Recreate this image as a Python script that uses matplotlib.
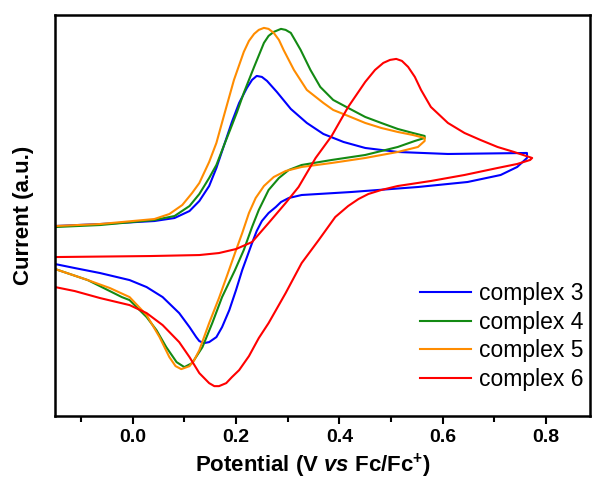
import matplotlib
matplotlib.use("Agg")
import matplotlib.pyplot as plt
from matplotlib.ticker import MultipleLocator

plt.rcParams['font.family'] = ['Liberation Sans', 'DejaVu Sans']
plt.rcParams['mathtext.fontset'] = 'custom'
plt.rcParams['mathtext.rm'] = 'Liberation Sans:bold'
plt.rcParams['mathtext.it'] = 'Liberation Sans:bold:italic'
plt.rcParams['mathtext.bf'] = 'Liberation Sans:bold'

# complex 3 (blue) - anodic sweep then return sweep
c3_fwd_v = [-0.150, -0.063, 0.042, 0.081, 0.110, 0.129, 0.148, 0.162, 0.177, 0.192, 0.206, 0.221,
            0.231, 0.240, 0.250, 0.260, 0.279, 0.306, 0.337, 0.369, 0.408, 0.450, 0.513, 0.610, 0.763]
c3_fwd_i = [0.74, 0.76, 0.79, 0.82, 0.89, 0.99, 1.14, 1.32, 1.55, 1.78, 1.97, 2.12,
            2.20, 2.24, 2.23, 2.19, 2.08, 1.91, 1.77, 1.66, 1.58, 1.52, 1.48, 1.46, 1.47]
c3_rev_v = [0.763, 0.744, 0.712, 0.648, 0.552, 0.423, 0.327, 0.302, 0.287, 0.277, 0.263, 0.250,
            0.240, 0.231, 0.212, 0.200, 0.187, 0.173, 0.162, 0.148, 0.138, 0.129, 0.123, 0.110,
            0.090, 0.058, 0.027, -0.006, -0.063, -0.112, -0.150]
c3_rev_i = [1.42, 1.33, 1.25, 1.18, 1.13, 1.08, 1.05, 1.02, 0.98, 0.93, 0.87, 0.79,
            0.69, 0.57, 0.30, 0.10, -0.10, -0.27, -0.37, -0.42, -0.43, -0.41, -0.37, -0.27,
            -0.13, 0.03, 0.13, 0.20, 0.27, 0.32, 0.36]

# complex 4 (green)
c4_fwd_v = [-0.150, -0.063, 0.042, 0.081, 0.110, 0.129, 0.148, 0.162, 0.177, 0.190, 0.202, 0.215,
            0.235, 0.254, 0.263, 0.273, 0.287, 0.296, 0.306, 0.315, 0.325, 0.344, 0.363, 0.388,
            0.417, 0.450, 0.481, 0.513, 0.542, 0.565]
c4_fwd_i = [0.73, 0.75, 0.80, 0.84, 0.94, 1.06, 1.22, 1.35, 1.55, 1.72, 1.88, 2.07,
            2.33, 2.57, 2.64, 2.68, 2.71, 2.70, 2.67, 2.59, 2.50, 2.30, 2.13, 2.00,
            1.92, 1.83, 1.77, 1.71, 1.67, 1.64]
c4_rev_v = [0.565, 0.546, 0.513, 0.450, 0.385, 0.327, 0.302, 0.283, 0.263, 0.244, 0.231, 0.215,
            0.198, 0.173, 0.154, 0.135, 0.115, 0.100, 0.085, 0.065, 0.046, 0.027, -0.006, -0.021,
            -0.087, -0.150]
c4_rev_i = [1.62, 1.59, 1.53, 1.45, 1.40, 1.35, 1.30, 1.22, 1.10, 0.90, 0.73, 0.50,
            0.30, 0.03, -0.23, -0.47, -0.63, -0.67, -0.62, -0.47, -0.30, -0.17, 0.00, 0.03,
            0.20, 0.31]

# complex 5 (orange)
c5_fwd_v = [-0.150, -0.063, 0.042, 0.071, 0.096, 0.115, 0.129, 0.148, 0.162, 0.177, 0.196, 0.215,
            0.225, 0.235, 0.244, 0.254, 0.263, 0.273, 0.283, 0.292, 0.312, 0.337, 0.369, 0.388,
            0.417, 0.450, 0.481, 0.513, 0.542, 0.565]
c5_fwd_i = [0.74, 0.76, 0.81, 0.86, 0.95, 1.07, 1.17, 1.38, 1.57, 1.85, 2.20, 2.48,
            2.59, 2.66, 2.70, 2.72, 2.71, 2.67, 2.60, 2.50, 2.30, 2.10, 1.97, 1.90,
            1.84, 1.77, 1.72, 1.68, 1.65, 1.62]
c5_rev_v = [0.565, 0.552, 0.513, 0.450, 0.385, 0.327, 0.296, 0.273, 0.254, 0.238, 0.225, 0.212,
            0.198, 0.183, 0.167, 0.148, 0.129, 0.119, 0.110, 0.094, 0.083, 0.071, 0.052, 0.027,
            -0.006, -0.044, -0.087, -0.150]
c5_rev_i = [1.59, 1.53, 1.48, 1.42, 1.37, 1.33, 1.29, 1.23, 1.14, 1.02, 0.87, 0.67,
            0.47, 0.25, 0.02, -0.23, -0.50, -0.60, -0.66, -0.69, -0.66, -0.57, -0.37, -0.15,
            0.03, 0.12, 0.20, 0.31]

# complex 6 (red)
c6_fwd_v = [-0.150, 0.033, 0.129, 0.167, 0.200, 0.231, 0.263, 0.296, 0.321, 0.354, 0.385, 0.417,
            0.450, 0.469, 0.485, 0.498, 0.510, 0.521, 0.533, 0.546, 0.558, 0.577, 0.610, 0.642,
            0.673, 0.706, 0.738, 0.773]
c6_fwd_i = [0.43, 0.44, 0.45, 0.47, 0.51, 0.58, 0.77, 0.97, 1.13, 1.42, 1.64, 1.93,
            2.18, 2.30, 2.37, 2.40, 2.41, 2.39, 2.33, 2.23, 2.10, 1.93, 1.77, 1.67,
            1.60, 1.53, 1.48, 1.42]
c6_rev_v = [0.769, 0.744, 0.706, 0.642, 0.577, 0.513, 0.481, 0.456, 0.437, 0.417, 0.392, 0.360,
            0.327, 0.296, 0.263, 0.244, 0.225, 0.206, 0.192, 0.181, 0.167, 0.158, 0.148, 0.129,
            0.110, 0.090, 0.058, 0.027, -0.006, -0.063, -0.112, -0.150]
c6_rev_i = [1.40, 1.36, 1.32, 1.25, 1.19, 1.14, 1.10, 1.06, 1.01, 0.94, 0.83, 0.60,
            0.37, 0.07, -0.23, -0.38, -0.56, -0.70, -0.77, -0.83, -0.86, -0.86, -0.83, -0.73,
            -0.57, -0.42, -0.25, -0.13, -0.05, 0.02, 0.09, 0.13]

fig = plt.figure(figsize=(5.93, 4.8), dpi=100)
ax = fig.add_axes([0.093, 0.133, 0.902, 0.836])

ax.plot(c3_fwd_v + c3_rev_v, c3_fwd_i + c3_rev_i, color='#0000ff', lw=1.5, label='complex 3')
ax.plot(c4_fwd_v + c4_rev_v, c4_fwd_i + c4_rev_i, color='#138a13', lw=1.5, label='complex 4')
ax.plot(c5_fwd_v + c5_rev_v, c5_fwd_i + c5_rev_i, color='#ff8c00', lw=1.5, label='complex 5')
ax.plot(c6_fwd_v + c6_rev_v, c6_fwd_i + c6_rev_i, color='#ff0000', lw=1.5, label='complex 6')

ax.set_xlim(-0.15, 0.885)
ax.set_ylim(-1.16, 2.85)

ax.xaxis.set_major_locator(MultipleLocator(0.2))
ax.xaxis.set_minor_locator(MultipleLocator(0.1))
ax.tick_params(axis='x', which='major', direction='out', length=6, width=1.5, labelsize=14)
ax.tick_params(axis='x', which='minor', direction='out', length=4, width=1.5)
ax.set_yticks([])
for lab in ax.get_xticklabels():
    lab.set_fontweight('bold')
for s in ax.spines.values():
    s.set_linewidth(1.8)

ax.set_xlabel(r'Potential (V $\it{vs}$ Fc/Fc$^{+}$)', fontsize=16, fontweight='bold')
ax.xaxis.set_label_coords(0.482, -0.088)
ax.set_ylabel('Current (a.u.)', fontsize=16, fontweight='bold')
ax.yaxis.set_label_coords(-0.04, 0.5)

ax.legend(loc='lower right', bbox_to_anchor=(1.0, 0.045), frameon=False, fontsize=16.5,
          handlelength=2.2, handletextpad=0.35, labelspacing=0.25, borderaxespad=0.0,
          borderpad=0.3)

fig.savefig('out.png', dpi=100)
